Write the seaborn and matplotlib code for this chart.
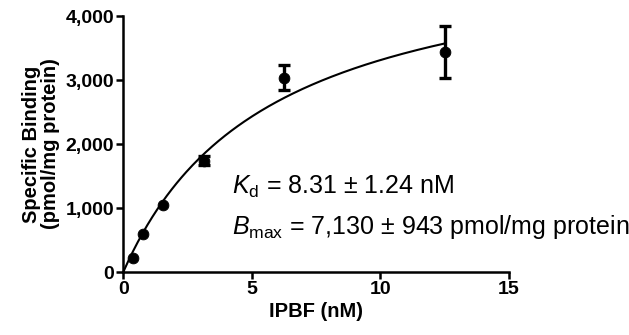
import numpy as np
import pandas as pd
import matplotlib
matplotlib.use('Agg')
import matplotlib.pyplot as plt
import seaborn as sns
from matplotlib.ticker import FuncFormatter

# data
conc = [0.39, 0.78, 1.56, 3.125, 6.25, 12.5]
binding = [215, 590, 1040, 1740, 3040, 3440]
sem = [0, 0, 0, 70, 195, 400]

# one-site fit curve parameters (as drawn)
fit_kd = 5.7
fit_bmax = 5200

sns.set_theme(style='ticks')
plt.rcParams['font.family'] = ['Liberation Sans', 'DejaVu Sans']
plt.rcParams['mathtext.fontset'] = 'custom'
plt.rcParams['mathtext.rm'] = 'Liberation Sans'
plt.rcParams['mathtext.it'] = 'Liberation Sans:italic'

fig = plt.figure(figsize=(6.29, 3.35), dpi=100)
ax = fig.add_axes([0.196, 0.188, 0.613, 0.764])

xs = np.linspace(0, 12.5, 200)
curve = pd.DataFrame({'x': xs, 'y': fit_bmax * xs / (fit_kd + xs)})
sns.lineplot(data=curve, x='x', y='y', ax=ax, color='black', lw=1.5)

df = pd.DataFrame({'conc': conc, 'binding': binding, 'err': sem})
witherr = df[df['err'] > 0]
ax.errorbar(witherr['conc'], witherr['binding'], yerr=witherr['err'], fmt='none',
            ecolor='black', elinewidth=2.4, capsize=4.6, capthick=2.4, zorder=3)
sns.scatterplot(data=df, x='conc', y='binding', ax=ax, color='black', s=60,
                edgecolor='black', zorder=4)

ax.set_xlim(0, 15)
ax.set_ylim(0, 4000)
ax.set_xticks([0, 5, 10, 15])
ax.set_yticks([0, 1000, 2000, 3000, 4000])
ax.yaxis.set_major_formatter(FuncFormatter(lambda v, p: f'{int(v):,}'))
for lab in ax.get_xticklabels() + ax.get_yticklabels():
    lab.set_fontweight('bold')
ax.tick_params(labelsize=14, width=1.8, length=5, pad=1.5, direction='out',
               colors='black')
for s in ['left', 'bottom']:
    ax.spines[s].set_linewidth(1.8)
    ax.spines[s].set_color('black')
sns.despine(ax=ax)
ax.spines['left'].set_zorder(5)
ax.spines['bottom'].set_zorder(5)
for line in ax.lines:
    line.set_clip_on(False)

ax.set_xlabel('IPBF (nM)', fontsize=14.5, fontweight='bold', labelpad=3,
              color='black')
ax.set_ylabel('Specific Binding\n(pmol/mg protein)', fontsize=14.5,
              fontweight='bold', labelpad=4, linespacing=1.0, color='black')

ax.text(4.22, 1220, r'$\mathit{K}_{\mathrm{d}}$ = 8.31 ± 1.24 nM', fontsize=18,
        color='black')
ax.text(4.22, 600, r'$\mathit{B}_{\mathrm{max}}$ = 7,130 ± 943 pmol/mg protein',
        fontsize=18, color='black')

fig.savefig('out.png', dpi=100)
